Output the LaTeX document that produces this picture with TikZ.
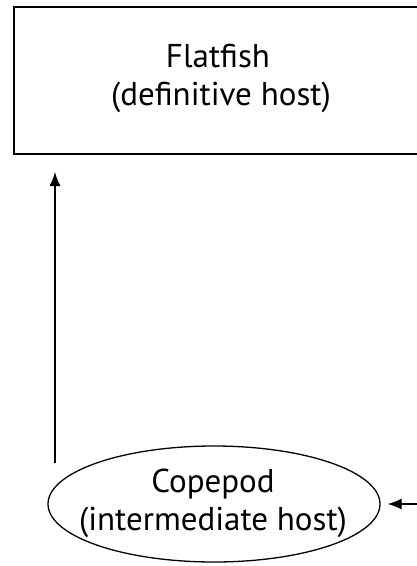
\documentclass[tikz,border=0pt]{standalone}
\usepackage{fontspec}
\setmainfont{PT Sans}
\usetikzlibrary{arrows.meta,shapes.geometric}
\tikzset{
  hostbox/.style={draw, line width=1.6pt, minimum width=408pt, minimum height=147pt, inner sep=0pt},
  hostell/.style={draw, ellipse, line width=1.3pt, minimum width=332pt, minimum height=116pt, inner sep=0pt},
  link/.style={line width=1.2pt, -{Latex[length=14pt,width=11pt]}},
  txt/.style={anchor=base, inner sep=0pt, font=\fontsize{33}{38}\selectfont},
}
\begin{document}
\begin{tikzpicture}[x=1pt,y=-1pt]
\useasboundingbox (0,0) rectangle (416,566);
\fill[white] (0,0) rectangle (416,566);
\node[hostbox] (fish) at (218,80.5) {};
\node[txt] (fishname) at (218,67) {Flatfish};
\node[txt] (fishrole) at (221,105) {(definitive host)};
\node[hostell] (cope) at (214,504) {};
\node[txt] (copename) at (213,492) {Copepod};
\node[txt] (coperole) at (213,530) {(intermediate host)};
\coordinate (upstart) at (55,463);
\coordinate (upend) at (55,172);
\coordinate (rstart) at (430,504);
\draw[link] (upstart) -- (upend);
\draw[link] (rstart) -- ([xshift=7pt]cope.east);
\end{tikzpicture}
\end{document}
